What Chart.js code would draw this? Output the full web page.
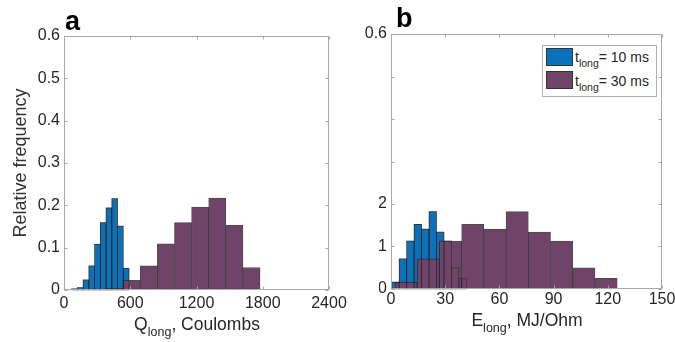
<!DOCTYPE html>
<html><head><meta charset="utf-8">
<script src="https://cdn.jsdelivr.net/npm/chart.js@4"></script>
<style>
html,body{margin:0;padding:0;background:#fff;overflow:hidden;width:675px;height:342px;}
body{position:relative;font-family:"Liberation Sans",Arial,sans-serif;color:#262626;}
canvas{position:absolute;top:0;}
#ca{left:0;} #cb{left:338px;}
.lbl{position:absolute;font-weight:bold;font-size:27px;color:#000;line-height:27px;}
.xt{position:absolute;font-size:17.5px;line-height:18px;white-space:nowrap;transform:translateX(-50%);color:#262626;}
.sub{font-size:12.5px;position:relative;top:6px;}
.cover{position:absolute;background:#fff;}
#legend{position:absolute;left:542px;top:45px;width:113px;height:50px;border:1px solid #b0b0b0;background:#fff;}
#legend .sw{position:absolute;left:3px;width:27px;height:18px;box-sizing:border-box;border:1px solid #333;}
#legend .lt{position:absolute;left:32px;font-size:14px;line-height:14px;white-space:nowrap;color:#262626;}
#legend .s2{font-size:10.5px;position:relative;top:5px;}
</style>
</head><body>
<canvas id="ca" width="360" height="342"></canvas>
<canvas id="cb" width="360" height="342"></canvas>
<div class="cover" style="left:348px;top:46px;width:40px;height:120px;"></div>
<div class="cover" style="left:348px;top:166px;width:31px;height:124px;"></div>
<div class="lbl" style="left:65px;top:8px;">a</div>
<div class="lbl" style="left:396px;top:5px;">b</div>
<div class="xt" style="left:197px;top:315px;">Q<span class="sub">long</span>, Coulombs</div>
<div class="xt" style="left:527px;top:311px;">E<span class="sub">long</span>, MJ/Ohm</div>
<div id="legend">
  <div class="sw" style="top:2px;background:#0a72bd;"></div>
  <div class="lt" style="top:4px;">t<span class="s2">long</span>= 10 ms</div>
  <div class="sw" style="top:25px;background:#6f4468;"></div>
  <div class="lt" style="top:28px;">t<span class="s2">long</span>= 30 ms</div>
</div>
<script>
// ---- data ----
const seriesNames = ['t_long = 10 ms', 't_long = 30 ms'];
const qBlueCenters   = [95, 147, 199, 251, 303, 355, 407, 459, 511, 563];
const qBlueFreq      = [0.003, 0.006, 0.024, 0.057, 0.108, 0.159, 0.194, 0.216, 0.151, 0.051];
const qPurpleCenters = [303, 458, 613, 768, 923, 1078, 1233, 1388, 1543, 1698];
const qPurpleFreq    = [0.002, 0.004, 0.023, 0.057, 0.109, 0.159, 0.196, 0.217, 0.153, 0.053];
const eBlueCenters   = [2.47, 6.6, 10.73, 14.86, 18.99, 23.12, 27.25, 31.38, 35.51, 39.64];
const eBlueFreq      = [0.016, 0.071, 0.113, 0.152, 0.141, 0.182, 0.134, 0.113, 0.05, 0.025];
const ePurpleCenters = [8.35, 20.65, 32.95, 45.25, 57.55, 69.85, 82.15, 94.45, 106.75, 119.05];
const ePurpleFreq    = [0.016, 0.071, 0.113, 0.152, 0.141, 0.182, 0.134, 0.113, 0.05, 0.025];
const qTicks = [0, 600, 1200, 1800, 2400];
const eTicks = [0, 30, 60, 90, 120, 150];
const freqTicks = [0, 0.1, 0.2, 0.3, 0.4, 0.5, 0.6];

const BLUE = '#0a72bd', PURPLE = '#6f4468';
const FONT = '"Liberation Sans", Arial, sans-serif';

const boxPlugin = {
  id: 'box',
  afterDatasetsDraw(chart) {
    // blue bar outlines seen through purple
    const meta = chart.getDatasetMeta(1);
    const ctx = chart.ctx;
    ctx.save();
    ctx.strokeStyle = 'rgba(25,25,25,0.5)';
    ctx.lineWidth = 0.8;
    meta.data.forEach(el => {
      const p = el.getProps(['x', 'y', 'base', 'width'], true);
      ctx.strokeRect(p.x - p.width / 2, p.y, p.width, p.base - p.y);
    });
    ctx.restore();
  },
  afterDraw(chart) {
    const {ctx, chartArea: {left, right, top, bottom}, scales: {x, y}} = chart;
    const L = Math.round(left) + 0.5, R = Math.round(right) - 0.5, T = Math.round(top) + 0.5, B = Math.round(bottom) - 0.5;
    ctx.save();
    ctx.strokeStyle = '#a8a8a8';
    ctx.lineWidth = 1;
    ctx.strokeRect(L, T, R - L, B - T);
    ctx.beginPath();
    x.ticks.forEach(t => {
      const px = Math.round(x.getPixelForValue(t.value)) + 0.5;
      ctx.moveTo(px, B); ctx.lineTo(px, B - 3);
      ctx.moveTo(px, T); ctx.lineTo(px, T + 3);
    });
    y.ticks.forEach(t => {
      const py = Math.round(y.getPixelForValue(t.value)) + 0.5;
      ctx.moveTo(L, py); ctx.lineTo(L + 3, py);
      ctx.moveTo(R, py); ctx.lineTo(R - 3, py);
    });
    ctx.stroke();
    ctx.restore();
  }
};

function makeChart(id, opts) {
  const barCommon = {
    barThickness: 'flex', barPercentage: 1, categoryPercentage: 1,
    borderWidth: 0.9, borderColor: 'rgba(30,30,30,0.8)', borderSkipped: false
  };
  return new Chart(document.getElementById(id), {
    type: 'bar',
    data: {
      datasets: [
        Object.assign({label: seriesNames[1], order: 0, backgroundColor: PURPLE,
          data: opts.pc.map((c, i) => ({x: c, y: opts.pf[i]}))}, barCommon),
        Object.assign({label: seriesNames[0], order: 1, backgroundColor: BLUE,
          data: opts.bc.map((c, i) => ({x: c, y: opts.bf[i]}))}, barCommon)
      ]
    },
    options: {
      responsive: false, animation: false, events: [],
      layout: {padding: {left: 0, right: opts.padR, top: opts.padT, bottom: 0}},
      plugins: {legend: {display: false}, tooltip: {enabled: false}},
      scales: {
        x: {
          type: 'linear', offset: false, stacked: true,
          min: opts.xTicks[0], max: opts.xTicks[opts.xTicks.length - 1],
          grid: {display: false, drawTicks: false, offset: false}, border: {display: false},
          afterBuildTicks: s => { s.ticks = opts.xTicks.map(v => ({value: v})); },
          afterFit: s => { s.height = opts.xH; },
          ticks: {padding: opts.xPad, maxRotation: 0, autoSkip: false, color: '#262626',
                  font: {family: FONT, size: 16}, callback: v => String(v)}
        },
        y: {
          min: 0, max: 0.6, stacked: false,
          grid: {display: false, drawTicks: false}, border: {display: false},
          afterBuildTicks: s => { s.ticks = freqTicks.map(v => ({value: v})); },
          afterFit: s => { s.width = opts.yW; },
          ticks: {padding: 4, autoSkip: false, color: '#262626',
                  font: {family: FONT, size: 16}, callback: v => String(+v.toFixed(1))},
          title: {display: !!opts.yTitle, text: opts.yTitle || '', color: '#333',
                  font: {family: FONT, size: 18}, padding: {top: 10, bottom: 0}}
        }
      }
    },
    plugins: [boxPlugin]
  });
}

makeChart('ca', {bc: qBlueCenters, bf: qBlueFreq, pc: qPurpleCenters, pf: qPurpleFreq,
  xTicks: qTicks, padR: 31, padT: 36, xH: 52, yW: 64, xPad: 4, yTitle: 'Relative frequency'});
makeChart('cb', {bc: eBlueCenters, bf: eBlueFreq, pc: ePurpleCenters, pf: ePurpleFreq,
  xTicks: eTicks, padR: 36, padT: 34, xH: 53, yW: 53, xPad: 1, yTitle: ''});
</script>
</body></html>
